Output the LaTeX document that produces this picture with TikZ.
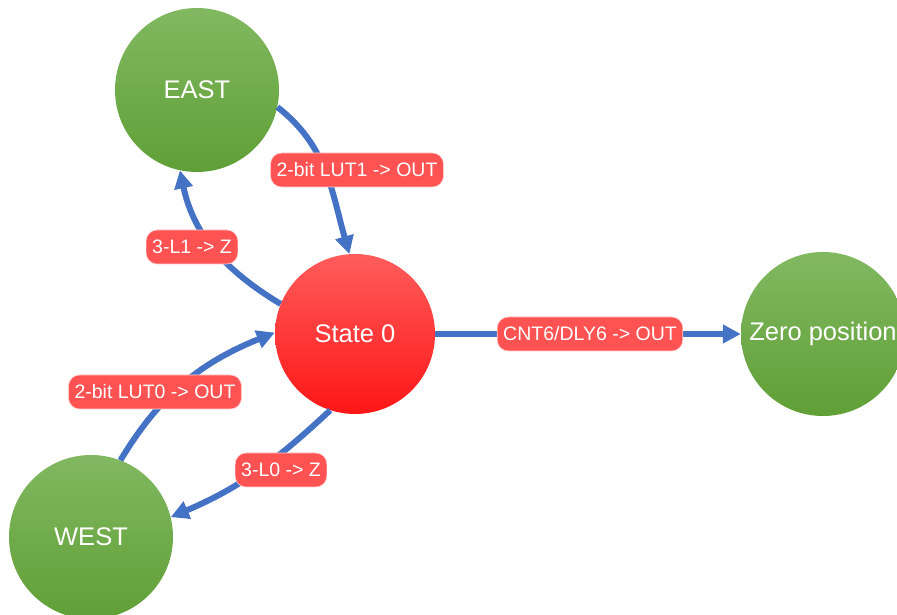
\documentclass[tikz,border=0pt]{standalone}
\usepackage{fontspec}
\setmainfont{Liberation Sans}
\usepackage{tikz}
\usetikzlibrary{shapes.geometric, arrows.meta}
\definecolor{edgeblue}{RGB}{68,114,196}
\definecolor{greentop}{RGB}{129,184,97}
\definecolor{greenbot}{RGB}{96,159,54}
\definecolor{redtop}{RGB}{255,92,92}
\definecolor{redbot}{RGB}{255,22,22}
\definecolor{lblred}{RGB}{255,82,82}
\tikzstyle{greenstate} = [circle, minimum size=164pt, inner sep=0pt, text=white, top color=greentop, bottom color=greenbot, font=\fontsize{25.5}{30}\selectfont]
\tikzstyle{redstate} = [circle, minimum size=160pt, inner sep=0pt, text=white, top color=redtop, bottom color=redbot, font=\fontsize{25.5}{30}\selectfont]
\tikzstyle{lbl} = [rectangle, rounded corners=11pt, minimum height=34pt, inner xsep=6pt, inner ysep=0pt, text=white, fill=lblred, draw=red!20, line width=0.6pt, font=\fontsize{19.5}{22}\selectfont]
\tikzstyle{arrow} = [line width=6pt, edgeblue, -{Triangle[length=18pt,width=18pt]}]

\begin{document}
\begin{tikzpicture}[x=1pt, y=1pt]
\useasboundingbox (0,0) rectangle (897,615);

\node (east) [greenstate] at (197,525) {EAST};
\node (state0) [redstate] at (355,281) {State 0};
\node (west) [greenstate] at (91,78) {WEST};
\node (zero) [greenstate] at (823,281) {Zero position};

\draw [arrow] (east.-12) to[out=-38, in=106] (state0.94);
\draw [arrow] (state0.158) to[out=149, in=-78] (east.-102);
\draw [arrow] (west.69) to[out=59, in=-158] (state0.179);
\draw [arrow] (state0.-108) to[out=-137, in=23] (west.14);
\draw [arrow] (state0.east) -- (zero.west);

\node (lut1) [lbl] at (357,445) {2-bit LUT1 -> OUT};
\node (l1z) [lbl] at (192,368) {3-L1 -> Z};
\node (lut0) [lbl] at (155,223) {2-bit LUT0 -> OUT};
\node (l0z) [lbl] at (281,145) {3-L0 -> Z};
\node (cnt6) [lbl] at (590,281) {CNT6/DLY6 -> OUT};

\end{tikzpicture}
\end{document}
